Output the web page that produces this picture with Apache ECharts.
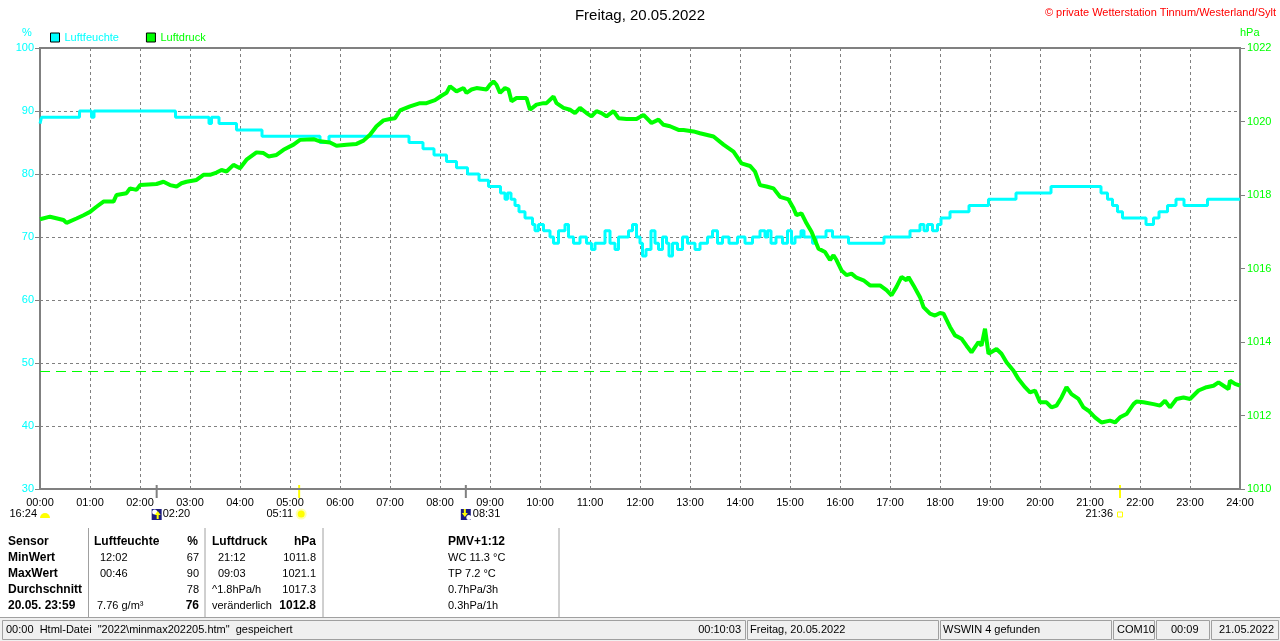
<!DOCTYPE html>
<html><head><meta charset="utf-8">
<script src="https://cdn.jsdelivr.net/npm/echarts@6/dist/echarts.min.js"></script>
<style>html,body{margin:0;padding:0;background:#fff;}#c{width:1280px;height:641px;}</style>
</head><body><div id="c"></div>
<script>
// ---------- data ----------
const hourLabels = ['00:00','01:00','02:00','03:00','04:00','05:00','06:00','07:00','08:00','09:00','10:00','11:00','12:00','13:00','14:00','15:00','16:00','17:00','18:00','19:00','20:00','21:00','22:00','23:00','24:00'];
const humTime = [0.00,0.03,0.79,1.03,1.08,2.71,3.38,3.43,3.58,3.93,4.44,5.60,5.78,7.38,7.66,7.88,8.13,8.33,8.55,8.78,8.97,9.21,9.30,9.35,9.42,9.50,9.58,9.70,9.85,9.90,9.97,
  10.07,10.20,10.27,10.37,10.50,10.57,10.67,10.80,10.93,11.03,11.10,11.30,11.40,11.50,11.57,11.77,11.85,11.93,12.00,12.05,12.12,12.22,12.30,12.37,12.45,12.53,12.58,12.65,12.75,12.85,12.95,
  13.10,13.20,13.35,13.45,13.55,13.65,13.78,13.95,14.10,14.25,14.40,14.50,14.55,14.62,14.72,14.85,14.95,15.03,15.10,15.22,15.28,15.45,15.52,15.72,15.85,16.17,16.88,
  17.40,17.60,17.68,17.75,17.85,17.95,18.02,18.20,18.58,18.97,19.52,20.22,21.22,21.35,21.45,21.55,21.65,22.12,22.27,22.38,22.55,22.72,22.88,23.35,24.00];
const humValue = [88,89,90,89,90,89,88,89,88,87,86,85,86,85,84,83,82,81,80,79,78,77,76,77,76,75,74,73,72,71,72,
  71,70,69,71,72,70,69,70,69,68,69,71,69,68,70,71,72,70,69,67,68,71,69,68,70,69,67,69,68,70,69,
  68,69,70,71,69,70,69,70,69,70,71,70,71,69,70,69,71,69,70,71,70,69,70,71,70,69,70,
  71,72,71,72,71,72,73,74,75,76,77,78,77,76,75,74,73,72,73,74,75,76,75,76,76];
const presTime = [0.00,0.20,0.47,0.53,0.73,0.87,1.00,1.13,1.27,1.47,1.53,1.73,1.80,1.93,2.00,2.33,2.47,2.60,2.73,2.83,2.93,3.13,3.27,3.40,3.53,3.63,3.73,3.87,4.00,4.13,4.33,4.47,4.57,4.73,4.87,
  5.07,5.20,5.47,5.60,5.80,5.93,6.13,6.33,6.47,6.60,6.73,6.87,7.00,7.10,7.20,7.40,7.60,7.73,7.90,8.03,8.13,8.20,8.33,8.47,8.53,8.63,8.73,8.93,9.00,9.07,9.13,9.20,9.30,9.37,9.43,9.53,9.73,9.80,9.93,
  10.07,10.13,10.27,10.33,10.47,10.60,10.70,10.80,10.93,11.03,11.13,11.23,11.33,11.47,11.57,11.73,11.93,12.07,12.23,12.37,12.47,12.60,12.77,12.87,13.07,13.20,13.47,13.67,13.87,
  14.03,14.20,14.30,14.40,14.53,14.67,14.80,14.97,15.07,15.13,15.23,15.33,15.43,15.57,15.70,15.80,15.87,15.93,16.03,16.13,16.23,16.33,16.47,16.60,16.80,16.93,17.03,17.13,17.23,17.33,17.37,17.47,17.60,17.67,17.80,17.90,
  18.00,18.07,18.20,18.30,18.43,18.53,18.63,18.77,18.83,18.90,18.97,19.13,19.23,19.33,19.47,19.57,19.70,19.80,19.90,20.00,20.13,20.23,20.33,20.43,20.53,20.63,20.77,20.87,20.97,
  21.10,21.23,21.40,21.50,21.60,21.73,21.87,21.93,22.07,22.27,22.40,22.50,22.60,22.73,22.87,23.00,23.17,23.33,23.47,23.57,23.67,23.77,23.80,23.90,24.00];
const presValue = [1017.34,1017.41,1017.32,1017.24,1017.36,1017.45,1017.54,1017.68,1017.82,1017.82,1018.00,1018.05,1018.18,1018.14,1018.27,1018.30,1018.36,1018.27,1018.23,1018.32,1018.36,1018.41,1018.55,1018.55,1018.61,1018.68,1018.64,1018.82,1018.73,1018.96,1019.16,1019.14,1019.05,1019.09,1019.23,
  1019.37,1019.50,1019.52,1019.46,1019.43,1019.34,1019.37,1019.39,1019.48,1019.64,1019.87,1020.03,1020.07,1020.09,1020.30,1020.41,1020.50,1020.50,1020.58,1020.70,1020.78,1020.96,1020.82,1020.91,1020.78,1020.87,1020.91,1020.87,1021.00,1021.09,1021.00,1020.78,1020.91,1020.87,1020.55,1020.64,1020.64,1020.32,1020.46,
  1020.50,1020.50,1020.68,1020.50,1020.37,1020.32,1020.23,1020.37,1020.23,1020.14,1020.28,1020.23,1020.14,1020.28,1020.09,1020.07,1020.07,1020.18,1019.96,1020.05,1019.91,1019.87,1019.77,1019.77,1019.73,1019.68,1019.59,1019.37,1019.18,
  1018.86,1018.79,1018.64,1018.27,1018.23,1018.18,1017.95,1017.88,1017.64,1017.45,1017.50,1017.23,1017.00,1016.54,1016.45,1016.23,1016.36,1016.23,1015.95,1015.82,1015.86,1015.75,1015.68,1015.54,1015.54,1015.41,1015.27,1015.50,1015.77,1015.68,1015.77,1015.54,1015.22,1014.95,1014.77,1014.72,
  1014.79,1014.77,1014.41,1014.18,1014.09,1013.90,1013.72,1014.00,1013.90,1014.36,1013.68,1013.81,1013.68,1013.45,1013.22,1012.99,1012.77,1012.63,1012.68,1012.36,1012.36,1012.22,1012.27,1012.49,1012.77,1012.58,1012.45,1012.22,1012.13,
  1011.95,1011.81,1011.86,1011.81,1011.95,1012.04,1012.31,1012.38,1012.36,1012.31,1012.27,1012.40,1012.22,1012.45,1012.49,1012.45,1012.68,1012.77,1012.81,1012.90,1012.81,1012.72,1012.95,1012.86,1012.81];
const referencePressure = 1013.2;
const eventTimes = [2 + 20/60, 5 + 11/60, 8 + 31/60, 21 + 36/60];
const eventLabels = ['02:20','05:11','08:31','21:36'];
const eventKinds = ['moonrise','sunrise','moonset','sunset'];
const sunshineLabel = '16:24';
const tableHeader = ['Sensor','Luftfeuchte','%','Luftdruck','hPa','PMV+1:12'];
const rowLabels = ['MinWert','MaxWert','Durchschnitt','20.05. 23:59'];
const humTimes = ['12:02','00:46','','7.76 g/m³'];
const humVals = ['67','90','78','76'];
const presTimes = ['21:12','09:03','^1.8hPa/h','veränderlich'];
const presVals = ['1011.8','1021.1','1017.3','1012.8'];
const extraInfo = ['WC 11.3 °C','TP 7.2 °C','0.7hPa/3h','0.3hPa/1h'];
const statusTexts = ['00:00  Html-Datei  "2022\\minmax202205.htm"  gespeichert','00:10:03','Freitag, 20.05.2022','WSWIN 4 gefunden','COM10','00:09','21.05.2022'];

// ---------- chart ----------
const FF = '"Liberation Sans", Arial, sans-serif';
const CYAN = '#00ffff', GREEN = '#00ff00', GRAY = '#808080';
const chart = echarts.init(document.getElementById('c'), null, {renderer:'canvas', width:1280, height:641});

const option = {
  animation: false,
  backgroundColor: '#ffffff',
  textStyle: {fontFamily: FF},
  grid: {left: 40, right: 40, top: 48, bottom: 152, containLabel: false, show: true, borderColor: GRAY, borderWidth: 2, backgroundColor: 'transparent'},
  legend: {
    left: 50, top: 32, padding: 0, icon: 'rect', itemWidth: 9, itemHeight: 9, itemGap: 27,
    itemStyle: {borderColor: '#000', borderWidth: 1},
    textStyle: {fontSize: 11, fontFamily: FF, padding: [0,0,0,0], lineHeight: 11},
    selectedMode: false,
    data: [{name: 'Luftfeuchte', textStyle: {color: CYAN}}, {name: 'Luftdruck', textStyle: {color: GREEN}}]
  },
  xAxis: {
    type: 'value', min: 0, max: 24, interval: 1,
    axisLine: {show: true, lineStyle: {color: GRAY, width: 2}},
    axisTick: {show: false},
    splitLine: {show: true, lineStyle: {color: GRAY, type: [3,3], width: 1}},
    axisLabel: {color: '#000', fontSize: 11, fontFamily: FF, margin: 8, showMinLabel: true, showMaxLabel: true, formatter: v => hourLabels[Math.round(v)]}
  },
  yAxis: [{
    type: 'value', min: 30, max: 100, interval: 10, position: 'left',
    axisLine: {show: true, lineStyle: {color: GRAY, width: 2}},
    axisTick: {show: true, length: 5, lineStyle: {color: GRAY, width: 1}},
    splitLine: {show: true, lineStyle: {color: GRAY, type: [3,3], width: 1}},
    axisLabel: {color: CYAN, fontSize: 11, fontFamily: FF, margin: 6, formatter: v => String(v)}
  }, {
    type: 'value', min: 1010, max: 1022, interval: 2, position: 'right',
    axisLine: {show: true, lineStyle: {color: GRAY, width: 2}},
    axisTick: {show: true, length: 5, lineStyle: {color: GRAY, width: 1}},
    splitLine: {show: false},
    axisLabel: {color: GREEN, fontSize: 11, fontFamily: FF, margin: 7, formatter: v => String(v)}
  }],
  series: [{
    name: 'Luftfeuchte', type: 'line', yAxisIndex: 0, step: 'end', showSymbol: false, symbol: 'none',
    color: CYAN, lineStyle: {color: CYAN, width: 3}, silent: true,
    data: humTime.map((t, i) => [t, humValue[i]])
  }, {
    name: 'Luftdruck', type: 'line', yAxisIndex: 1, showSymbol: false, symbol: 'none',
    color: GREEN, lineStyle: {color: GREEN, width: 4, join: 'bevel'}, silent: true,
    data: presTime.map((t, i) => [t, presValue[i]]),
    markLine: {silent: true, symbol: 'none', label: {show: false},
      lineStyle: {color: GREEN, type: [10,6], width: 1},
      data: [{yAxis: referencePressure}]}
  }]
};
chart.setOption(option);

// ---------- annotations ----------
const g = [];
const txt = (x, y, s, opt) => g.push(Object.assign({type: 'text', x: x, y: y, silent: true,
  style: Object.assign({text: s, fill: '#000', font: '11px ' + FF, textAlign: 'left', textVerticalAlign: 'middle'}, opt || {})}));
const rect = (x, y, w, h, style) => g.push({type: 'rect', silent: true, shape: {x: x, y: y, width: w, height: h}, style: style});
const line = (x1, y1, x2, y2, style) => g.push({type: 'line', silent: true, shape: {x1: x1, y1: y1, x2: x2, y2: y2}, style: style});

// title & copyright & axis names
txt(640, 16, 'Freitag, 20.05.2022', {font: '15px ' + FF, textAlign: 'center'});
txt(1276, 13, '© private Wetterstation Tinnum/Westerland/Sylt', {fill: '#ff0000', textAlign: 'right'});
txt(27, 33, '%', {fill: CYAN, textAlign: 'center'});
txt(1240, 33, 'hPa', {fill: GREEN});

// event markers on time axis
const px = t => chart.convertToPixel({xAxisIndex: 0}, t);
const yTop = chart.convertToPixel({yAxisIndex: 0}, 30);
const rowY = yTop + 25;
eventTimes.forEach((t, i) => {
  const ex = px(t);
  const kind = eventKinds[i];
  const isSun = kind === 'sunrise' || kind === 'sunset';
  line(ex, yTop - 4, ex, yTop + 9, {stroke: isSun ? '#ffff00' : GRAY, lineWidth: 2});
  if (kind === 'moonrise' || kind === 'moonset') {
    rect(ex - 5, rowY - 5, 10, 11, {fill: '#1c1c80'});
    if (kind === 'moonrise') {
      g.push({type: 'circle', silent: true, shape: {cx: ex - 2, cy: rowY - 2, r: 2.5}, style: {fill: '#ffffff'}});
      g.push({type: 'polygon', silent: true, shape: {points: [[ex, rowY + 5], [ex, rowY + 1], [ex - 2, rowY + 1], [ex + 1, rowY - 3], [ex + 4, rowY + 1], [ex + 2, rowY + 1], [ex + 2, rowY + 5]]}, style: {fill: '#ffff00'}});
      txt(ex + 6, rowY, eventLabels[i]);
    } else {
      g.push({type: 'circle', silent: true, shape: {cx: ex + 3, cy: rowY + 3.5, r: 2.5}, style: {fill: '#ffffff'}});
      g.push({type: 'polygon', silent: true, shape: {points: [[ex - 2, rowY - 5], [ex - 2, rowY - 1], [ex - 4, rowY - 1], [ex - 1, rowY + 3], [ex + 2, rowY - 1], [ex, rowY - 1], [ex, rowY - 5]]}, style: {fill: '#ffff00'}});
      txt(ex + 7, rowY, eventLabels[i]);
    }
  } else if (kind === 'sunrise') {
    g.push({type: 'circle', silent: true, shape: {cx: ex + 2, cy: rowY, r: 5.5}, style: {fill: '#ffffb0'}});
    g.push({type: 'circle', silent: true, shape: {cx: ex + 2, cy: rowY, r: 3.5}, style: {fill: '#ffff00'}});
    txt(ex - 6, rowY, eventLabels[i], {textAlign: 'right'});
  } else {
    rect(ex - 2.5, rowY - 2, 5, 5, {fill: 'none', stroke: '#ffff00', lineWidth: 1});
    txt(ex - 7, rowY, eventLabels[i], {textAlign: 'right'});
  }
});
// sunshine duration at day start
const x0 = px(0);
txt(x0 - 3, rowY, sunshineLabel, {textAlign: 'right'});
g.push({type: 'sector', silent: true, shape: {cx: x0 + 5, cy: rowY + 4, r: 5, r0: 0, startAngle: Math.PI, endAngle: 2 * Math.PI, clockwise: true}, style: {fill: '#ffff00'}});

// table
const tY = [541.5, 557.5, 573.5, 589.5, 605.5];
const B = 'bold 12px ' + FF;
[88.5, 205, 323, 559].forEach(x => line(x, 528, x, 617, {stroke: '#a0a0a0', lineWidth: 1}));
txt(8, tY[0], tableHeader[0], {font: B});
txt(94, tY[0], tableHeader[1], {font: B});
txt(198, tY[0], tableHeader[2], {font: B, textAlign: 'right'});
txt(212, tY[0], tableHeader[3], {font: B});
txt(316, tY[0], tableHeader[4], {font: B, textAlign: 'right'});
txt(448, tY[0], tableHeader[5], {font: B});
rowLabels.forEach((s, i) => {
  const y = tY[i + 1];
  const last = i === rowLabels.length - 1;
  txt(8, y, s, {font: B});
  txt(last ? 97 : 100, y, humTimes[i]);
  txt(199, y, humVals[i], last ? {font: B, textAlign: 'right'} : {textAlign: 'right'});
  txt(i >= 2 ? 212 : 218, y, presTimes[i]);
  txt(316, y, presVals[i], last ? {font: B, textAlign: 'right'} : {textAlign: 'right'});
  txt(448, y, extraInfo[i]);
});

// status bar
rect(0, 617, 1280, 24, {fill: '#f0f0f0'});
line(0, 617.5, 1280, 617.5, {stroke: '#a0a0a0', lineWidth: 1});
const panels = [[2, 745], [747, 938], [940, 1111], [1113, 1154], [1156, 1209], [1211, 1278]];
panels.forEach(p => rect(p[0] + 0.5, 620.5, p[1] - p[0], 19, {fill: 'none', stroke: '#a0a0a0', lineWidth: 1}));
txt(6, 630, statusTexts[0]);
txt(741, 630, statusTexts[1], {textAlign: 'right'});
txt(750, 630, statusTexts[2]);
txt(943, 630, statusTexts[3]);
txt(1117, 630, statusTexts[4]);
txt(1171, 630, statusTexts[5]);
txt(1219, 630, statusTexts[6]);

chart.setOption({graphic: g});
</script></body></html>
